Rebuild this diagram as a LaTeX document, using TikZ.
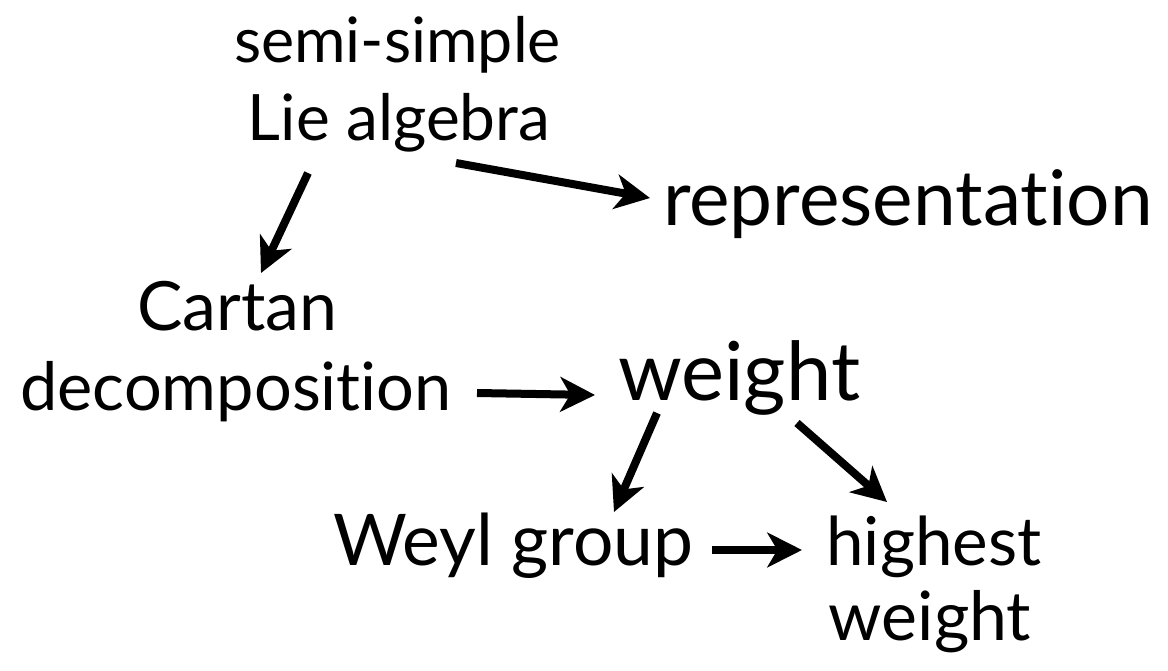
\documentclass[tikz,border=0pt]{standalone}
\usepackage{fontspec}
\setmainfont{Lato}[Ligatures=NoCommon]
\usetikzlibrary{arrows.meta,calc}
\newcommand{\fs}[1]{\fontsize{#1}{#1}\selectfont}
\tikzset{
  lbl/.style={inner sep=0pt, outer sep=0pt},
  conn/.style={line width=6pt, -{Stealth[length=26pt,width=26pt,inset=7.5pt]}}
}
\begin{document}
\begin{tikzpicture}[x=0.75pt,y=-0.75pt]
\useasboundingbox (0,0) rectangle (1168,671);
\node[lbl,anchor=base,font=\fs{47}] (semi) at (397.5,62) {semi-simple};
\node[lbl,anchor=base,font=\fs{48}] (lie) at (399,140) {Lie algebra};
\node[lbl,anchor=base west,font=\fs{57.5}] (repr) at (663,225) {representation};
\node[lbl,anchor=base,font=\fs{51}] (cartan) at (237.5,330) {Cartan};
\node[lbl,anchor=base,font=\fs{50}] (decomp) at (236,410) {decomposition};
\node[lbl,anchor=base west,font=\fs{61}] (weight) at (618,400) {weight};
\node[lbl,anchor=base west,font=\fs{53.5}] (weyl) at (333,565) {Weyl group};
\node[lbl,anchor=base,font=\fs{50.5}] (highest) at (934,565) {highest};
\node[lbl,anchor=base,font=\fs{51}] (hweight) at (930,640) {weight};
\draw[conn] ($(lie.base)+(-91,33)$) -- ($(cartan.base)+(23.5,-57)$);
\draw[conn] ($(lie.base)+(57,23)$) -- ($(repr.base west)+(-13,-27)$);
\draw[conn] ($(decomp.base)+(241,-17)$) -- ($(weight.base west)+(-23,-5)$);
\draw[conn] ($(weight.base west)+(39,13)$) -- ($(weyl.base west)+(281,-53)$);
\draw[conn] ($(weight.base west)+(179,23)$) -- ($(highest.base)+(-47,-63)$);
\draw[conn] ($(weyl.base west)+(379,-15)$) -- ($(highest.base)+(-132,-15)$);
\end{tikzpicture}
\end{document}
